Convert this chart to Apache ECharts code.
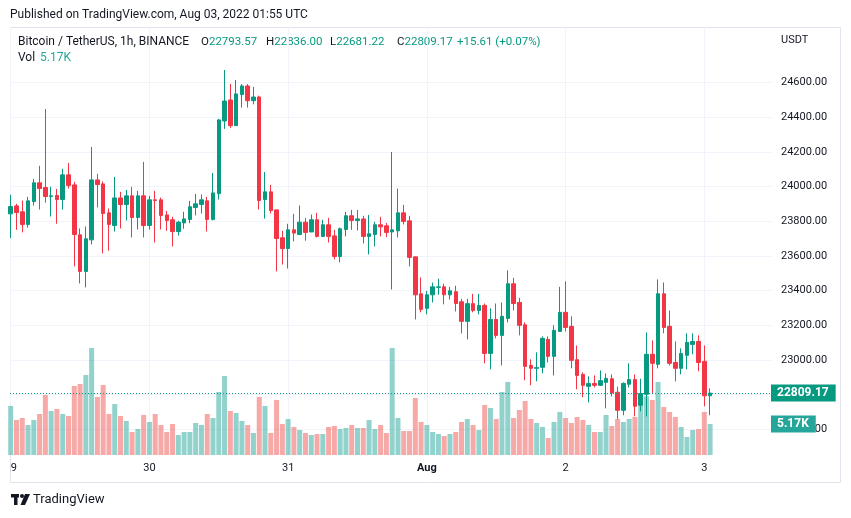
<!DOCTYPE html>
<html><head><meta charset="utf-8">
<script src="https://cdn.jsdelivr.net/npm/echarts@6/dist/echarts.min.js"></script>
<style>html,body{margin:0;padding:0;background:#fff}#c{width:851px;height:518px}</style>
</head><body><div id="c"></div><script>
// Hourly candles BTC/USDT, Jul 29 00:00 UTC .. Aug 3 01:00 UTC
const openP = [23843,23889,23855,23782,23914,24022,23995,23943,23949,23926,24068,24010,23722,23511,23693,24039,24016,23849,23776,23935,23897,23947,23822,23947,
23776,23924,23924,23837,23809,23741,23791,23811,23880,23897,23918,23811,23960,24379,24500,24352,24531,24581,24496,24517,23926,23970,23866,23705,
23643,23751,23724,23795,23739,23809,23713,23780,23716,23597,23753,23832,23805,23814,23713,23724,23780,23774,23739,23745,23849,23803,23595,23382,
23298,23376,23419,23422,23376,23394,23336,23223,23325,23286,23315,23038,23234,23142,23240,23440,23332,23203,22969,22952,22958,23119,23021,23165,
23275,23194,23002,22917,22848,22865,22854,22871,22892,22814,22710,22860,22887,22739,22802,23033,22975,23382,23194,22986,22952,23027,23090,23107,
22992,22793.57];
const closeP = [23885,23851,23782,23918,24022,23989,23943,23947,23926,24068,24006,23724,23511,23699,24039,24012,23845,23782,23935,23897,23947,23822,23947,23776,
23924,23920,23834,23805,23741,23795,23814,23884,23901,23924,23811,23964,24385,24494,24352,24535,24581,24496,24517,23920,23970,23862,23701,23643,
23751,23732,23795,23736,23809,23713,23780,23713,23597,23757,23832,23805,23814,23713,23728,23780,23768,23736,23751,23849,23799,23592,23376,23292,
23376,23422,23422,23376,23399,23326,23223,23325,23286,23315,23038,23234,23142,23252,23440,23326,23200,22963,22952,22956,23125,23021,23171,23275,
23188,22998,22911,22854,22865,22854,22881,22894,22810,22710,22865,22887,22733,22806,23033,22981,23382,23188,22981,22952,23038,23102,23107,22986,
22793.56,22809.17];
const lowP = [23703,23751,23736,23764,23891,23868,23908,23828,23786,23868,23989,23540,23442,23419,23666,23880,23615,23630,23741,23759,23805,23707,23753,23707,
23753,23678,23753,23745,23655,23718,23757,23789,23834,23845,23741,23805,23926,24333,24339,24350,24456,24456,24475,23868,23816,23845,23511,23551,
23528,23684,23720,23688,23737,23707,23710,23678,23580,23563,23713,23751,23747,23672,23609,23655,23713,23709,23407,23707,23782,23540,23234,23275,
23263,23332,23376,23321,23349,23280,23154,23119,23275,23263,22981,22946,23125,22969,23217,23286,23142,22883,22854,22877,22923,22986,22911,23163,
23165,22952,22831,22785,22756,22842,22850,22721,22790,22658,22681,22842,22675,22704,22675,22810,22952,23154,22969,22877,22917,22946,23033,22935,
22733,22681.22];
const highP = [23953,23901,23920,23941,24045,24120,24448,23999,23987,24103,24137,24028,23759,23770,24229,24074,24030,23874,24056,23970,23981,23999,23976,24143,
23947,23976,23937,23860,23826,23803,23855,23918,23958,23955,23941,24079,24391,24673,24592,24615,24592,24592,24575,24525,24085,24010,23868,23745,
23786,23843,23891,23820,23839,23849,23809,23820,23751,23764,23855,23866,23866,23832,23837,23797,23826,23791,24200,23989,23895,23832,23597,23476,
23399,23447,23469,23440,23422,23428,23353,23353,23382,23382,23326,23298,23326,23332,23517,23474,23359,23217,23004,23044,23136,23136,23200,23422,
23453,23252,23084,22929,22906,22911,22940,22923,22917,22846,22871,22981,22917,22892,23159,23113,23465,23447,23286,23107,23067,23154,23154,23142,
23084,22836.00];
const volumeK = [8.17,5.83,6.17,5.0,5.83,6.83,10.0,7.33,7.67,6.83,6.5,11.5,11.83,13.33,17.83,9.67,11.67,6.83,8.5,6.5,5.67,3.83,4.33,6.67,
5.5,6.83,5.0,3.83,5.17,3.33,3.83,3.83,5.33,5.0,6.83,6.17,10.5,13.17,7.33,7.0,5.67,5.0,3.67,9.67,8.17,3.67,9.17,5.17,
6.0,4.67,4.17,3.67,3.33,3.5,3.5,4.67,4.83,4.33,4.5,5.0,4.5,4.5,5.83,4.33,5.0,3.67,17.83,6.17,4.0,4.0,9.5,5.5,
5.0,3.83,3.5,3.17,3.5,3.83,5.5,6.0,5.0,4.17,8.33,7.83,6.0,10.5,12.17,6.17,7.5,9.0,6.0,5.33,4.67,2.83,5.5,7.17,
6.17,5.33,6.33,5.83,5.0,3.83,3.83,6.67,4.83,6.0,5.5,6.0,6.33,10.3,9.8,9.17,12.17,8.0,7.17,6.33,4.67,3.0,4.17,4.33,
7.17,5.17];
const dayLabels = ['29','30','31','Aug','2','3'];
const dayStartHours = [0,24,48,72,96,120];
const priceTicks = [22600,22800,23000,23200,23400,23600,23800,24000,24200,24400,24600];

const UP='#089981', DOWN='#F23645', UPV='rgba(38,166,154,0.5)', DOWNV='rgba(239,83,80,0.5)';
const TXT='#131722', FONT='Roboto, "Noto Sans", sans-serif';
const n = openP.length;
const candles = openP.map((o,i)=>[i,o,closeP[i],lowP[i],highP[i]]);
const vols = volumeK.map((v,i)=>({value:[i,v],itemStyle:{color: closeP[i]>=openP[i]?UPV:DOWNV}}));
const lastO=openP[n-1], lastC=closeP[n-1], lastH=highP[n-1], lastL=lowP[n-1], prevC=closeP[n-2];
const chg=lastC-prevC, pct=chg/prevC*100;
const f2=v=>v.toFixed(2);
const sgn=v=>(v>=0?'+':'')+v.toFixed(2);
const F12='12px '+FONT;
function legendItem(x, key, val){
  return {type:'text',x:x,y:36,style:{text:'{k|'+key+'}{v|'+val+'}',
    rich:{k:{fill:TXT,fontSize:11.5,fontFamily:FONT},v:{fill:UP,fontSize:11.5,fontFamily:FONT}}}};
}

const chart = echarts.init(document.getElementById('c'), null, {renderer:'canvas'});
chart.setOption({
  animation:false,
  backgroundColor:'#fff',
  textStyle:{fontFamily:FONT},
  grid:{left:10,right:80,top:27,bottom:63,containLabel:false},
  xAxis:{type:'value',min:-0.12,max:131.54,
    axisLine:{show:false},
    axisTick:{show:false,customValues:dayStartHours},
    axisLabel:{customValues:dayStartHours,color:TXT,fontSize:11,margin:8,fontFamily:FONT,
      formatter:v=>{const s=dayLabels[dayStartHours.indexOf(v)];return /^[A-Za-z]/.test(s)?'{b|'+s+'}':s;},
      rich:{b:{fontWeight:'bold',color:TXT,fontSize:11,fontFamily:FONT}}},
    splitLine:{show:true,lineStyle:{color:'#f0f3fa',width:1}}},
  yAxis:[
    {type:'value',position:'right',min:22452,max:24921,scale:true,
     axisLine:{show:false},axisTick:{show:false,customValues:priceTicks},
     axisLabel:{customValues:priceTicks,color:TXT,fontSize:11,margin:10,fontFamily:FONT,formatter:v=>f2(v)},
     splitLine:{show:true,lineStyle:{color:'#f0f3fa',width:1}}},
    {type:'value',min:0,max:71.3,show:false,splitLine:{show:false}}
  ],
  series:[
    {type:'bar',xAxisIndex:0,yAxisIndex:1,data:vols,barWidth:5,z:1,
     markLine:{silent:true,symbol:'none',z:10,data:[{yAxis:volumeK[n-1]}],
       lineStyle:{color:'rgba(0,0,0,0)',width:1,type:'solid'},
       label:{show:true,position:'end',distance:0,formatter:()=>volumeK[n-1].toFixed(2)+'K',color:'#fff',backgroundColor:'#26a69a',
         padding:[3,7,2,6],fontSize:12,fontWeight:'bold',fontFamily:FONT}}},
    {type:'candlestick',xAxisIndex:0,yAxisIndex:0,data:candles,barWidth:4,z:3,
     encode:{x:0,y:[1,2,3,4]},
     itemStyle:{color:UP,color0:DOWN,borderColor:UP,borderColor0:DOWN,borderWidth:1},
     markLine:{silent:true,symbol:'none',z:10,data:[{yAxis:lastC}],
       lineStyle:{color:UP,type:[1,2],width:1},
       label:{position:'end',distance:0,formatter:()=>f2(lastC),color:'#fff',backgroundColor:UP,
         padding:[3,7,2,6],fontSize:12,fontWeight:'bold',fontFamily:FONT}}}
  ],
  graphic:[
    {type:'rect',shape:{x:10.5,y:27.5,width:830,height:455},style:{fill:'none',stroke:'#e0e3eb',lineWidth:1},z:-1,silent:true},
    {type:'rect',shape:{x:0,y:458,width:10,height:22},style:{fill:'#fff'},z:100,silent:true},
    {type:'text',x:10,y:9,style:{text:'Published on TradingView.com, Aug 03, 2022 01:55 UTC',font:F12,fill:TXT}},
    {type:'text',x:18,y:36,style:{text:'Bitcoin / TetherUS, 1h, BINANCE',font:F12,fill:TXT}},
    legendItem(201,'O',f2(lastO)),
    legendItem(266,'H',f2(lastH)),
    legendItem(330,'L',f2(lastL)),
    legendItem(397,'C',f2(lastC)),
    {type:'text',x:457,y:36,style:{text:sgn(chg)+' ('+sgn(pct)+'%)',font:'11.5px '+FONT,fill:UP}},
    {type:'text',x:18,y:52,style:{text:'Vol',font:F12,fill:TXT}},
    {type:'text',x:40,y:52,style:{text:volumeK[n-1].toFixed(2)+'K',font:F12,fill:'#26a69a'}},
    {type:'text',x:781,y:35,style:{text:'USDT',font:'11px '+FONT,fill:TXT}},
    {type:'text',x:33,y:493,style:{text:'TradingView',font:'13px '+FONT,fill:TXT}},
    {type:'group',x:11,y:494,children:[
      {type:'rect',shape:{x:0,y:0,width:8,height:3.5},style:{fill:TXT}},
      {type:'rect',shape:{x:3,y:0,width:3.5,height:11},style:{fill:TXT}},
      {type:'circle',shape:{cx:11,cy:2,r:2},style:{fill:TXT}},
      {type:'polygon',shape:{points:[[14,0],[19,0],[14,11],[9.5,11]]},style:{fill:TXT}}
    ]}
  ]
});
</script></body></html>
